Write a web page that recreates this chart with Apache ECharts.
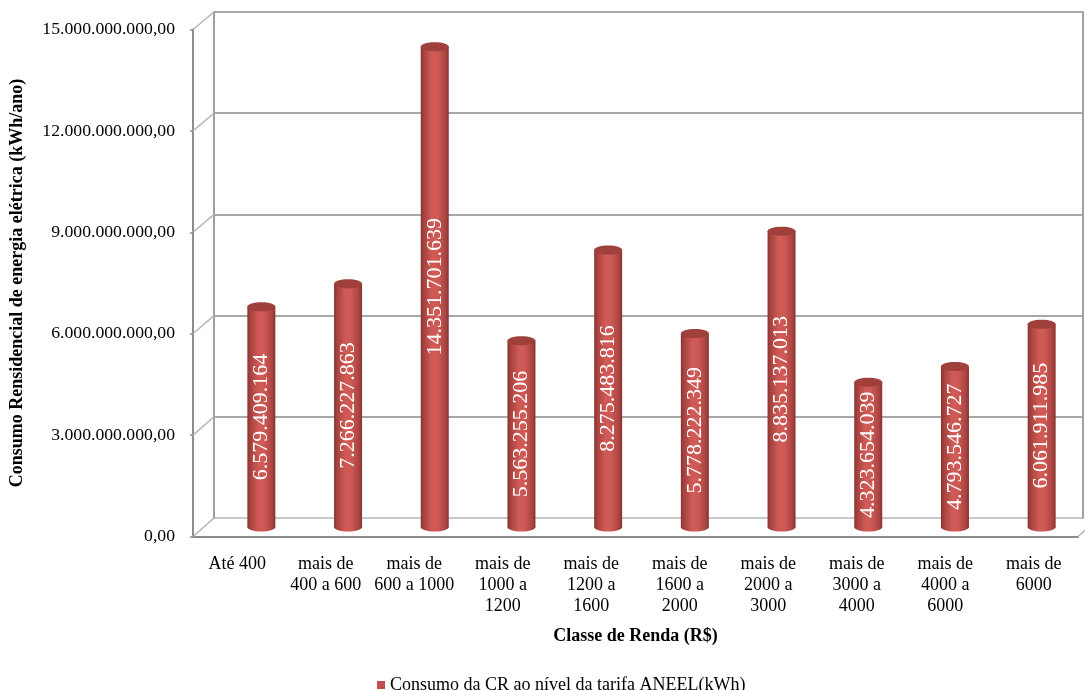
<!DOCTYPE html>
<html><head><meta charset="utf-8">
<script src="https://cdn.jsdelivr.net/npm/echarts@6/dist/echarts.min.js"></script>
<style>html,body{margin:0;padding:0;background:#fff}#c{width:1085px;height:690px}</style>
</head><body><div id="c"></div>
<script>
const categories = ["Até 400","mais de\n400 a 600","mais de\n600 a 1000","mais de\n1000 a\n1200","mais de\n1200 a\n1600","mais de\n1600 a\n2000","mais de\n2000 a\n3000","mais de\n3000 a\n4000","mais de\n4000 a\n6000","mais de\n6000"];
const consumo = [6579409164, 7266227863, 14351701639, 5563255206, 8275483816, 5778222349, 8835137013, 4323654039, 4793546727, 6061911985];
const yTicks = [0, 3000000000, 6000000000, 9000000000, 12000000000, 15000000000];
const seriesName = "Consumo da CR ao nível da tarifa ANEEL(kWh)";
const xTitle = "Classe de Renda (R$)";
const yTitle = "Consumo Rensidencial de energia elétrica (kWh/ano)";

const FONT = '"Liberation Serif","Times New Roman",serif';
const YMIN = yTicks[0], YMAX = yTicks[yTicks.length-1], YINT = yTicks[1]-yTicks[0];
function dots(n){ return String(Math.round(n)).replace(/\B(?=(\d{3})+(?!\d))/g,'.'); }

const BACK = {left:214, right:2, top:12, height:506};
const FRONT = {left:193, width:885, top:29.5, height:507};
const BARS = {left:218, width:882, top:25, height:502};

const chart = echarts.init(document.getElementById('c'), null, {renderer:'canvas'});
const barGrad = new echarts.graphic.LinearGradient(0,0,1,0,[
  {offset:0, color:'#8a3432'},{offset:0.12, color:'#a8433f'},{offset:0.4, color:'#cf5a56'},
  {offset:0.6, color:'#cf5955'},{offset:0.88, color:'#ab4542'},{offset:1, color:'#863230'}]);

chart.setOption({
  animation:false,
  backgroundColor:'#fff',
  grid:[BACK, FRONT, BARS],
  legend:{data:[seriesName], left:372, top:671, icon:'rect', itemWidth:8, itemHeight:8, itemGap:5,
    textStyle:{fontFamily:FONT, fontSize:18, color:'#000'}},
  xAxis:[
    {gridIndex:0, type:'category', data:categories, show:false},
    {gridIndex:1, type:'category', data:categories,
      axisLine:{show:true, lineStyle:{color:'#8c8c8c', width:2}}, axisTick:{show:false},
      axisLabel:{interval:0, fontFamily:FONT, fontSize:18, color:'#000', margin:17, lineHeight:21},
      name:xTitle, nameLocation:'middle', nameGap:91,
      nameTextStyle:{fontFamily:FONT, fontSize:18, fontWeight:'bold', color:'#000'}},
    {gridIndex:2, type:'category', data:categories, show:false}
  ],
  yAxis:[
    {gridIndex:0, type:'value', min:YMIN, max:YMAX, interval:YINT,
      axisLine:{show:true, lineStyle:{color:'#a0a0a0', width:2}}, axisTick:{show:false}, axisLabel:{show:false},
      splitLine:{show:true, lineStyle:{color:['#c8c8c8','#a8a8a8','#a8a8a8','#a8a8a8','#a8a8a8','#a8a8a8'], width:2}}},
    {gridIndex:0, type:'value', position:'right', min:YMIN, max:YMAX, interval:YINT,
      axisLine:{show:true, lineStyle:{color:'#a0a0a0', width:2}}, axisTick:{show:false}, axisLabel:{show:false}, splitLine:{show:false}},
    {gridIndex:1, type:'value', min:YMIN, max:YMAX, interval:YINT,
      axisLine:{show:true, lineStyle:{color:'#8c8c8c', width:2}},
      axisTick:{show:true, length:3, lineStyle:{color:'#8c8c8c', width:1.5}},
      axisLabel:{fontFamily:FONT, fontSize:17.7, color:'#000', margin:18, formatter:v=>dots(v)+',00'},
      splitLine:{show:false},
      name:yTitle, nameLocation:'middle', nameRotate:90, nameGap:167,
      nameTextStyle:{fontFamily:FONT, fontSize:18, fontWeight:'bold', color:'#000'}},
    {gridIndex:2, type:'value', min:YMIN, max:YMAX, show:false, splitLine:{show:false}}
  ],
  series:[{
    type:'custom', name:seriesName, xAxisIndex:2, yAxisIndex:3,
    itemStyle:{color:'#c0504d'},
    data:consumo.map((v,i)=>[i,v]),
    encode:{x:0, y:1},
    renderItem:function(params, api){
      const base = api.coord([api.value(0), 0]);
      const top = api.coord([api.value(0), api.value(1)]);
      const rx = 14, ry = 4.5;
      const cx = base[0];
      return {type:'group', children:[
        {type:'ellipse', shape:{cx:cx, cy:base[1], rx:rx, ry:ry}, style:{fill:barGrad}},
        {type:'rect', shape:{x:cx-rx, y:top[1], width:rx*2, height:base[1]-top[1]}, style:{fill:barGrad}},
        {type:'ellipse', shape:{cx:cx, cy:top[1], rx:rx, ry:ry}, style:{fill:'#9f403d'}},
        {type:'text', x:cx, y:(top[1]+base[1])/2, rotation:Math.PI/2,
          style:{text:dots(api.value(1)), fill:'#fff', font:'22px '+FONT, align:'center', verticalAlign:'middle'}}
      ]};
    }
  }]
});

// depth lines linking the front axis to the back wall
const gfx = [];
yTicks.forEach(v=>{
  const yf = chart.convertToPixel({yAxisIndex:2}, v);
  const yb = chart.convertToPixel({yAxisIndex:0}, v);
  gfx.push({type:'line', shape:{x1:FRONT.left, y1:yf, x2:BACK.left, y2:yb}, style:{stroke:'#b4b4b4', lineWidth:1.5}, z:1});
});
const y0f = chart.convertToPixel({yAxisIndex:2}, 0), y0b = chart.convertToPixel({yAxisIndex:0}, 0);
const xr = FRONT.left + FRONT.width;
gfx.push({type:'line', shape:{x1:xr, y1:y0f, x2:xr+(BACK.left-FRONT.left), y2:y0b}, style:{stroke:'#b4b4b4', lineWidth:1.5}, z:1});
chart.setOption({graphic:gfx});
</script></body></html>
